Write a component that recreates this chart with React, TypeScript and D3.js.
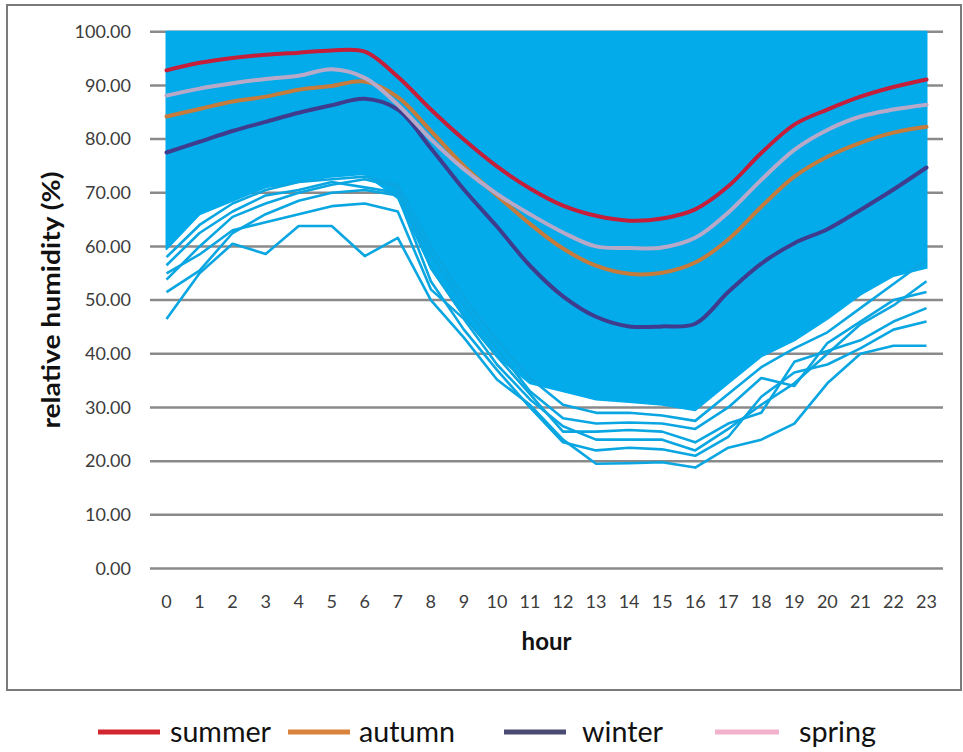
import React from 'react';
import * as d3 from 'd3';

// ---- data ----
const hours = [0, 1, 2, 3, 4, 5, 6, 7, 8, 9, 10, 11, 12, 13, 14, 15, 16, 17, 18, 19, 20, 21, 22, 23];
const yTicks = [0, 10, 20, 30, 40, 50, 60, 70, 80, 90, 100];

// seasonal mean profiles (%)
const summer = [92.8, 94.2, 95.1, 95.7, 96.1, 96.5, 96.3, 91.6, 85.5, 79.9, 74.9, 70.8, 67.6, 65.7, 64.8, 65.2, 66.9, 71.2, 77.4, 82.7, 85.5, 87.9, 89.7, 91.1];
const autumn = [84.2, 85.6, 87.0, 87.9, 89.2, 89.9, 90.7, 87.8, 81.5, 75.0, 69.5, 64.2, 59.6, 56.4, 54.9, 55.1, 57.0, 61.3, 67.4, 73.0, 76.7, 79.3, 81.2, 82.3];
const winter = [77.5, 79.5, 81.5, 83.2, 84.9, 86.3, 87.5, 85.5, 78.3, 70.6, 63.7, 56.4, 50.7, 46.9, 45.1, 45.1, 45.6, 51.5, 56.8, 60.6, 63.2, 66.8, 70.6, 74.7];
const spring = [88.1, 89.4, 90.4, 91.2, 91.8, 93.0, 91.4, 86.4, 80.0, 74.4, 69.8, 66.0, 62.6, 60.0, 59.7, 59.8, 61.6, 66.3, 72.4, 78.0, 81.7, 84.2, 85.5, 86.4];

// envelope of the dense bundle of daily profiles
const denseUpper = [100, 100, 100, 100, 100, 100, 100, 100, 100, 100, 100, 100, 100, 100, 100, 100, 100, 100, 100, 100, 100, 100, 100, 100];
const denseLower = [59.5, 66.0, 68.5, 71.0, 72.0, 73.0, 73.5, 69.0, 56.0, 47.0, 39.5, 34.5, 33.0, 31.5, 31.0, 30.5, 29.5, 34.5, 39.5, 42.5, 46.5, 51.0, 54.5, 56.0];

// individual outlying daily profiles
const day1 = [46.5, 55.0, 60.5, 58.6, 63.8, 63.8, 58.2, 61.6, 50.0, 43.0, 35.2, 30.5, 24.0, 19.5, 19.6, 19.8, 18.8, 22.5, 24.0, 27.0, 34.5, 40.0, 41.5, 41.5];
const day2 = [51.5, 55.5, 62.5, 66.0, 68.5, 70.0, 70.5, 69.5, 53.5, 44.5, 37.0, 30.0, 23.5, 22.0, 22.5, 22.2, 21.0, 24.5, 32.0, 36.5, 38.0, 41.0, 44.5, 46.0];
const day3 = [53.8, 60.0, 65.5, 68.0, 70.0, 71.5, 72.5, 71.0, 56.0, 47.0, 39.5, 32.5, 25.5, 25.5, 25.8, 25.5, 23.5, 27.0, 29.0, 38.5, 40.5, 42.5, 46.0, 48.5];
const day4 = [56.5, 62.5, 66.5, 69.5, 70.5, 72.0, 71.0, 70.0, 58.5, 49.0, 41.0, 33.0, 28.0, 27.0, 27.2, 27.0, 26.0, 30.0, 35.5, 34.0, 42.0, 46.0, 50.0, 51.5];
const day5 = [55.0, 58.5, 63.0, 64.5, 66.0, 67.5, 68.0, 66.5, 52.0, 46.5, 38.0, 31.5, 26.5, 24.0, 24.0, 24.0, 22.0, 26.0, 30.5, 34.5, 40.0, 45.5, 49.0, 53.5];
const day6 = [58.0, 64.0, 68.0, 70.5, 72.0, 72.5, 73.0, 71.5, 60.0, 50.5, 42.5, 35.5, 30.5, 29.0, 29.0, 28.5, 27.5, 32.5, 37.5, 41.0, 44.0, 48.5, 53.0, 57.5];
const dayLines = [day1, day2, day3, day4, day5, day6];

const seasonNames = ['summer', 'autumn', 'winter', 'spring'];
const seasonSeries = [summer, autumn, winter, spring];
const plotColors = ['#C41E3A', '#C47B3C', '#3F3C8E', '#B9A9C8'];
const legendColors = ['#D22630', '#D9823B', '#4B4A72', '#F2B2CB'];

export default function App() {
  const W = 963;
  const H = 752;
  const x = d3.scalePoint<number>().domain(hours).range([166.5, 926.5]);
  const y = d3.scaleLinear().domain([0, 100]).range([568.5, 31.7]);
  const gridX0 = 150;
  const gridX1 = 943;

  const straight = d3
    .line<number>()
    .x((_, i) => x(hours[i]) as number)
    .y((d) => y(d));
  const smooth = d3
    .line<number>()
    .x((_, i) => x(hours[i]) as number)
    .y((d) => y(d))
    .curve(d3.curveCatmullRom.alpha(0.5));
  const band = d3
    .area<number>()
    .x((_, i) => x(hours[i]) as number)
    .y0((_, i) => y(denseLower[i]))
    .y1((d) => y(d));

  const blue = '#03ABEB';
  const font = "Lato, 'Liberation Sans', sans-serif";

  // legend layout
  const legendLine = [
    [98, 160],
    [288, 350],
    [504, 566],
    [715, 779],
  ];
  const legendText = [
    [170, 101],
    [359, 96],
    [582, 81],
    [799, 77],
  ];

  return (
    <svg
      width={W}
      height={H}
      style={{ position: 'absolute', left: 0, top: 0, display: 'block', background: '#fff' }}
    >
      <rect x={7} y={5} width={954} height={685} fill="#fff" stroke="#7a7a7a" strokeWidth={2} />

      {/* gridlines */}
      {yTicks.map((t) => (
        <line key={t} x1={gridX0} x2={gridX1} y1={y(t)} y2={y(t)} stroke="#8a8a8a" strokeWidth={2.5} />
      ))}

      {/* dense bundle of daily profiles */}
      <path d={band(denseUpper) || ''} fill={blue} stroke={blue} strokeWidth={2} strokeLinejoin="round" />
      {dayLines.map((d, i) => (
        <path key={i} d={straight(d) || ''} fill="none" stroke="#0AA6E2" strokeWidth={2.6} strokeLinejoin="round" />
      ))}

      {/* seasonal means */}
      {seasonSeries.map((s, i) => (
        <path key={seasonNames[i]} d={smooth(s) || ''} fill="none" stroke={plotColors[i]} strokeWidth={4} strokeLinecap="round" />
      ))}

      {/* y tick labels */}
      {yTicks.map((t) => (
        <text key={t} x={131} y={y(t)} dy="0.35em" textAnchor="end" fontFamily={font} fontSize={18} fill="#3c3c3c">
          {d3.format('.2f')(t)}
        </text>
      ))}

      {/* x tick labels */}
      {hours.map((h) => (
        <text key={h} x={x(h)} y={608} textAnchor="middle" fontFamily={font} fontSize={18} fill="#3c3c3c">
          {h}
        </text>
      ))}

      <text x={(gridX0 + gridX1) / 2} y={650} textAnchor="middle" fontFamily={font} fontWeight="bold" fontSize={24} fill="#111">
        hour
      </text>
      <text
        transform={`translate(60, ${(y(0) + y(100)) / 2}) rotate(-90)`}
        textAnchor="middle"
        fontFamily={font}
        fontWeight="bold"
        fontSize={24}
        fill="#111"
        textLength={257}
        lengthAdjust="spacingAndGlyphs"
      >
        relative humidity (%)
      </text>

      {/* legend */}
      {seasonNames.map((n, i) => (
        <g key={n}>
          <line x1={legendLine[i][0]} x2={legendLine[i][1]} y1={732} y2={732} stroke={legendColors[i]} strokeWidth={5} />
          <text
            x={legendText[i][0]}
            y={742}
            fontFamily={font}
            fontSize={29}
            fill="#111"
            textLength={legendText[i][1]}
            lengthAdjust="spacingAndGlyphs"
          >
            {n}
          </text>
        </g>
      ))}
    </svg>
  );
}
